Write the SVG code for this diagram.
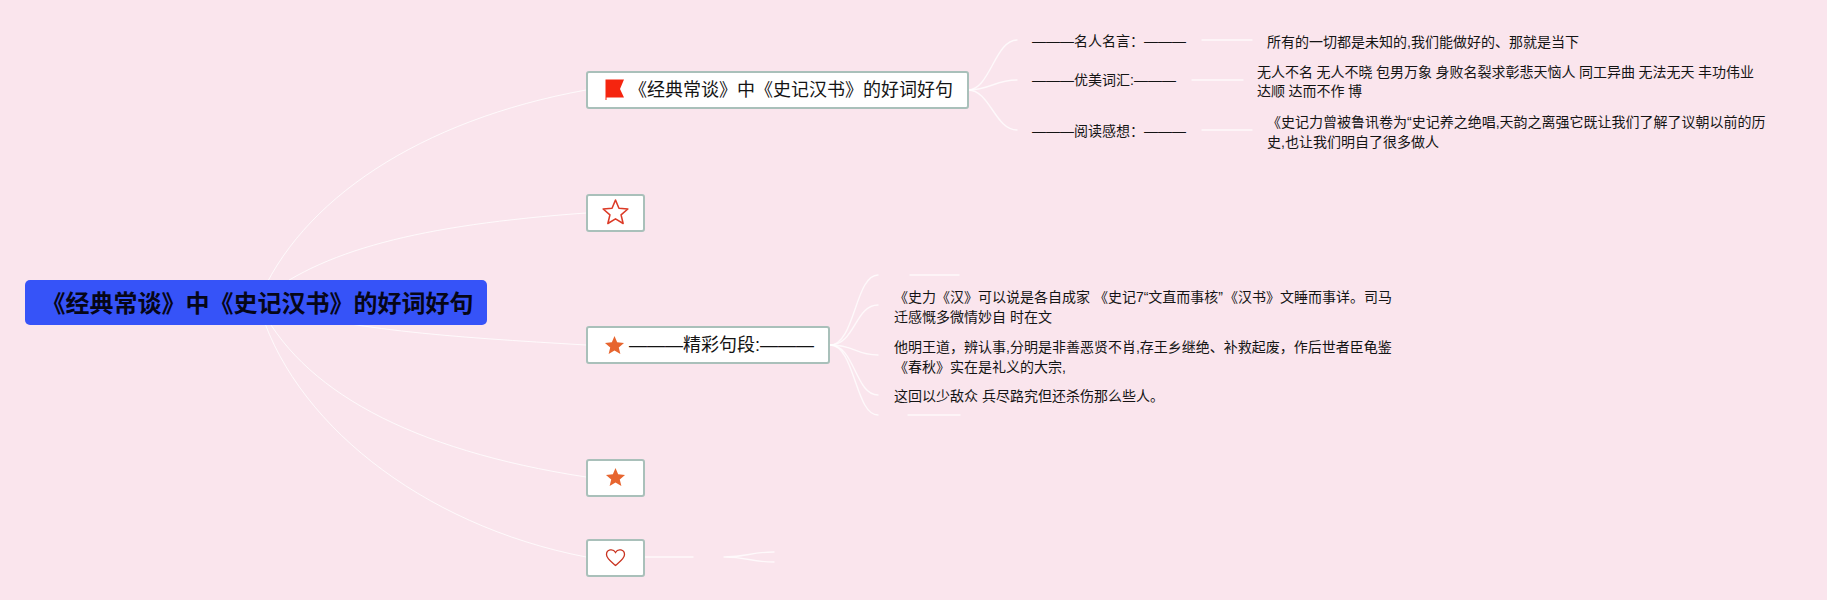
<svg xmlns="http://www.w3.org/2000/svg" width="1827" height="600" viewBox="0 0 1827 600">
<style>
text{font-family:"Liberation Sans","Noto Sans CJK SC",sans-serif;fill:#141414}
.root{font-size:24px;font-weight:700;fill:#060618}
.main{font-size:18px}
.sub{font-size:14px}
.box{fill:#fff;stroke:#a9c0ba;stroke-width:2}
.c{fill:none;stroke:#fff;stroke-width:1;stroke-linecap:round;opacity:.8}
.c2{stroke-width:1.4;opacity:.75}
</style>
<defs>
<path id="star" d="M0-10 2.65-3.64 9.51-3.09 4.28 1.39 5.88 8.09 0 4.5-5.88 8.09-4.28 1.39-9.51-3.09-2.65-3.64Z" stroke-linejoin="round"/>
</defs>
<rect width="1827" height="600" fill="#fae5ed"/>
<g id="connectors">
<path class="c" d="M258 302C300 200 420 120 586 90"/>
<path class="c" d="M258 302C320 250 420 225 586 213"/>
<path class="c" d="M258 302C340 330 450 337 586 345"/>
<path class="c" d="M258 302C300 390 410 450 586 477"/>
<path class="c" d="M258 302C290 420 420 525 586 557"/>
<path class="c c2" d="M968 90C990 90 995 40 1017 40"/>
<path class="c c2" d="M968 90C990 90 995 80 1017 80"/>
<path class="c c2" d="M968 90C990 90 995 130 1017 130"/>
<path class="c c2" d="M1202 40H1252M1192 80H1243M1202 130H1252"/>
<path class="c c2" d="M830 345C855 345 855 275 878 275"/>
<path class="c c2" d="M830 345C855 345 855 305 878 305"/>
<path class="c c2" d="M830 345C855 345 855 355 878 355"/>
<path class="c c2" d="M830 345C855 345 855 395 878 395"/>
<path class="c c2" d="M830 345C855 345 855 415 878 415"/>
<path class="c c2" d="M910 275H959M908 415H960"/>
<path class="c c2" d="M644 557H693"/>
<path class="c c2" d="M724 557C748 557 750 552 774 552M724 557C748 557 750 562 774 562"/>
</g>
<g id="root">
<rect x="25" y="280" width="462" height="45" rx="5" fill="#3653f8"/>
<text class="root" x="41.500" y="312">《经典常谈》中《史记汉书》的好词好句</text>
</g>
<g id="node-1">
<rect class="box" x="587" y="72" width="381" height="36" rx="2"/>
<path d="M605.500 100V79.500H624L620 89 624 97.500H606.500V100Z" fill="#f5250f"/>
<text class="main" x="629" y="96">《经典常谈》中《史记汉书》的好词好句</text>
</g>
<g id="node-1-1"><text class="sub" x="1032" y="46">———名人名言：———</text></g>
<g id="node-1-2"><text class="sub" x="1032" y="85">———优美词汇:———</text></g>
<g id="node-1-3"><text class="sub" x="1032" y="136">———阅读感想：———</text></g>
<g id="node-1-1-1"><text class="sub" x="1267" y="47">所有的一切都是未知的,我们能做好的、那就是当下</text></g>
<g id="node-1-2-1"><text class="sub" word-spacing="-.4"><tspan x="1257" y="77">无人不名 无人不晓 包男万象 身败名裂求彰悲天恼人 同工异曲 无法无天 丰功伟业</tspan><tspan x="1257" y="96">达顺 达而不作 博</tspan></text></g>
<g id="node-1-3-1"><text class="sub"><tspan x="1267" y="127">《史记力曾被鲁讯卷为“史记养之绝唱,天韵之离强它既让我们了解了议朝以前的历</tspan><tspan x="1267" y="147">史,也让我们明自了很多做人</tspan></text></g>
<g id="node-2">
<rect class="box" x="587" y="195" width="57" height="36" rx="2"/>
<use href="#star" transform="translate(615.500 213) scale(1.300)" fill="#fff" stroke="#dc3a26" stroke-width="1.200"/>
</g>
<g id="node-3">
<rect class="box" x="587" y="327" width="242" height="36" rx="2"/>
<use href="#star" transform="translate(614.500 346)" fill="#e7652f"/>
<text class="main" x="629" y="351">———精彩句段:———</text>
</g>
<g id="node-3-1"><text class="sub"><tspan x="894" y="302">《史力《汉》可以说是各自成家 《史记7“文直而事核”<tspan dx="8">《汉书》文睡而事详。司马</tspan></tspan><tspan x="894" y="322">迁感慨多微情妙自 时在文</tspan></text></g>
<g id="node-3-2"><text class="sub"><tspan x="894" y="352">他明王道，辨认事,分明是非善恶贤不肖,存王乡继绝、补救起废，作后世者臣龟鉴</tspan><tspan x="894" y="372">《春秋》实在是礼义的大宗,</tspan></text></g>
<g id="node-3-3"><text class="sub" x="894" y="401">这回以少敌众 兵尽路究但还杀伤那么些人。</text></g>
<g id="node-4">
<rect class="box" x="587" y="460" width="57" height="36" rx="2"/>
<use href="#star" transform="translate(615.500 478)" fill="#e7652f"/>
</g>
<g id="node-5">
<rect class="box" x="587" y="540" width="57" height="36" rx="2"/>
<path d="M615.500 565.500C611 561.500 606.500 558.500 606.500 554.500C606.500 549.500 613 548 615.500 552.500C618 548 624.500 549.500 624.500 554.500C624.500 558.500 620 561.500 615.500 565.500Z" fill="#fff" stroke="#c9321f" stroke-width="1.300"/>
</g>
</svg>
